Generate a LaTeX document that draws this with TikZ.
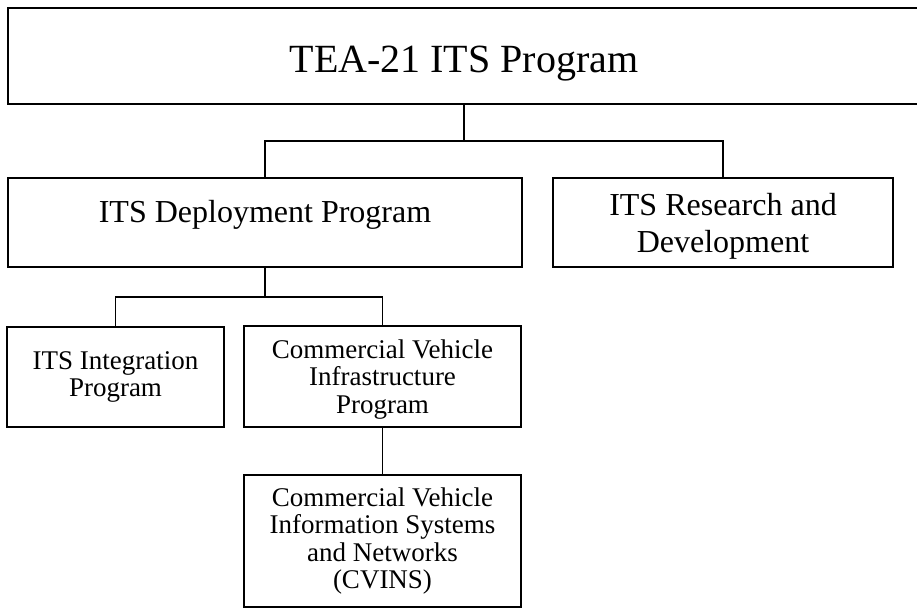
\documentclass[tikz,border=0pt]{standalone}
\usepackage{fontspec}
\setmainfont{Liberation Serif}

\tikzset{
  box/.style={draw, line width=1.4pt, rectangle, inner sep=0pt, align=center},
  link/.style={line width=1.4pt},
  bigfont/.style={font=\fontsize{40}{46}\selectfont},
  midfont/.style={font=\fontsize{32}{37}\selectfont},
  smallfont/.style={font=\fontsize{27}{27.5}\selectfont}
}

\begin{document}
\begin{tikzpicture}[x=1pt, y=-1pt]

        \useasboundingbox (0,0) rectangle (917,608);

        % Top level
        \node[box, bigfont, minimum width=912pt, minimum height=96pt,
              text height=41pt, text depth=9pt] (tea) at (464,56) {TEA-21 ITS Program};

        % Second level
        \node[box, midfont, minimum width=514pt, minimum height=89pt,
              text height=22pt, text depth=22pt] (deploy) at (265,222.5) {ITS Deployment Program};
        \node[box, midfont, minimum width=340pt, minimum height=89pt,
              text depth=0pt] (research) at (723,222.5) {ITS Research and\\Development};

        % Third level
        \node[box, smallfont, minimum width=217pt, minimum height=100pt] (integ) at (115.5,377) {ITS Integration\\Program};
        \node[box, smallfont, minimum width=277pt, minimum height=101pt,
              text depth=0pt] (cvi) at (382.5,376.5) {Commercial Vehicle\\Infrastructure\\Program};

        % Bottom level
        \node[box, smallfont, minimum width=277pt, minimum height=132pt] (cvins) at (382.5,541) {Commercial Vehicle\\Information Systems\\and Networks\\(CVINS)};

        % Joints of the tree
        \coordinate (j1) at (tea.south |- 0,141);
        \coordinate (j2) at (deploy.south |- 0,297);

        % Connectors
        \draw[link] (tea.south) -- (j1);
        \draw[link] (deploy.north) |- (j1) -| (research.north);
        \draw[link] (deploy.south) -- (j2);
        \draw[link] (integ.north) |- (j2) -| (cvi.north);
        \draw[link] (cvi.south) -- (cvins.north);

    \end{tikzpicture}
\end{document}
